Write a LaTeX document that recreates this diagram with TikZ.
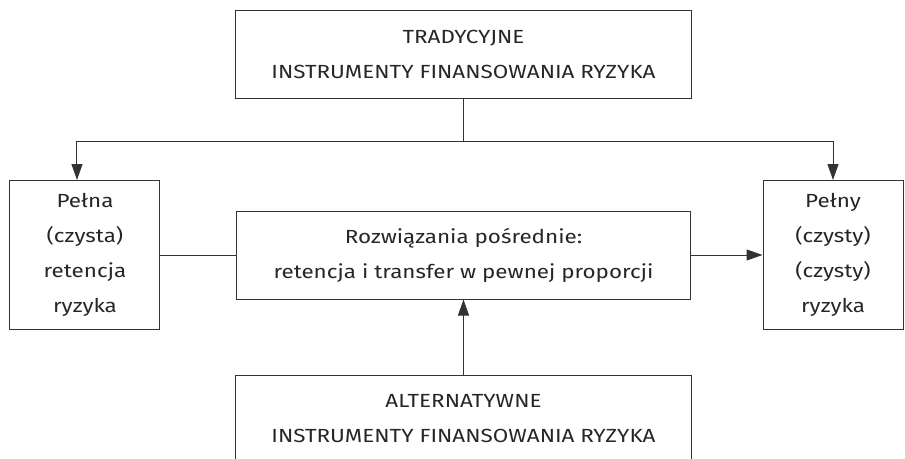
\documentclass[tikz,border=0pt]{standalone}
\usepackage{fontspec}
\setmainfont{Fira Sans}[FakeStretch=1.18]
\usetikzlibrary{positioning,arrows.meta}

\begin{document}
\begin{tikzpicture}[>={Triangle[length=16pt,width=11pt]},node distance=2cm,on grid,
    line width=1pt, draw=black!80,
    box/.style={draw=black!80, line width=1pt, align=center, text=black!85,
      font=\fontsize{19}{35}\selectfont, inner sep=0pt}]
    \useasboundingbox (-463.5pt,54pt) rectangle (441.5pt,-404pt);
    \node[box,minimum width=455pt,minimum height=88pt] (trad)
      {TRADYCYJNE\\INSTRUMENTY FINANSOWANIA RYZYKA};
    \node[box,minimum width=453pt,minimum height=88pt] (mid) [below=201pt of trad]
      {Rozwiązania pośrednie:\\retencja i transfer w pewnej proporcji};
    \node[box,minimum width=455pt,minimum height=88pt] (alt) [below=164pt of mid]
      {ALTERNATYWNE\\INSTRUMENTY FINANSOWANIA RYZYKA};
    \node[box,minimum width=150pt,minimum height=149pt] (pelna) [left=378.5pt of mid]
      {Pełna\\(czysta)\\retencja\\ryzyka};
    \node[box,minimum width=140pt,minimum height=149pt] (pelny) [right=369.5pt of mid]
      {Pełny\\(czysty)\\(czysty)\\ryzyka};

    \draw (trad.south) -- ++(0,-43pt) coordinate (split);
    \draw[->] (split) -| ([xshift=-8pt]pelna.north);
    \draw[->] (split) -| (pelny.north);
    \draw (pelna) -- (mid);
    \draw[->] (mid) -- (pelny);
    \draw[->] (alt) -- (mid);
  \end{tikzpicture}
\end{document}
